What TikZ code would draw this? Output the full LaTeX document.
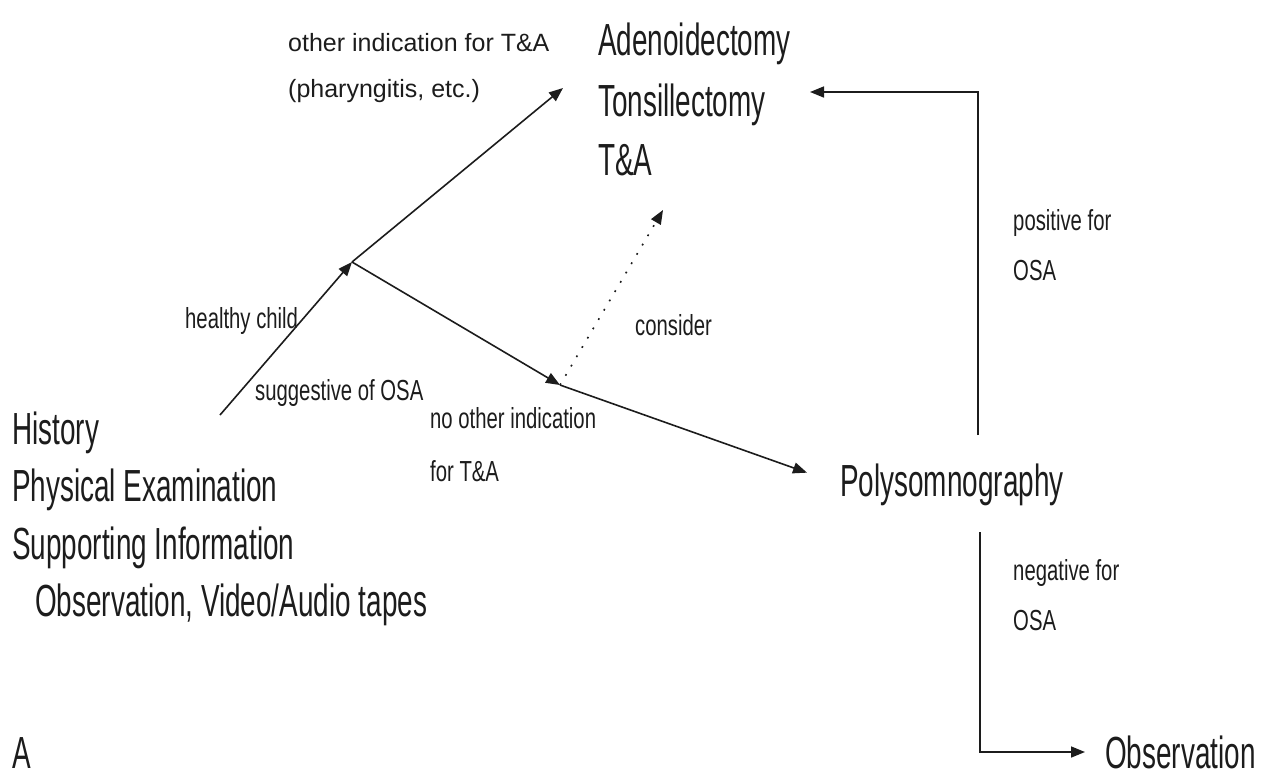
\documentclass[tikz,border=0pt]{standalone}
\usepackage{fontspec}
\usepackage{xcolor}
\usepackage{tikz}
\usetikzlibrary{arrows.meta, positioning}
\setmainfont{Liberation Sans}
\newfontfamily\bigfont{Liberation Sans}[FakeStretch=0.62]
\newfontfamily\narfont{Liberation Sans}[FakeStretch=0.7]
\definecolor{inkgray}{HTML}{1C1C1C}

\begin{document}
\begin{tikzpicture}[x=1pt, y=-1pt,
    bigtxt/.style={anchor=base west, inner sep=0pt, text=inkgray, font=\bigfont\fontsize{45}{50}\selectfont},
    labtxt/.style={anchor=base west, inner sep=0pt, text=inkgray, font=\narfont\fontsize{29}{32}\selectfont},
    toplab/.style={anchor=base west, inner sep=0pt, text=inkgray, font=\fontsize{25}{28}\selectfont},
    flow/.style={draw=inkgray, line width=1.6pt, -{Triangle[length=14pt, width=11pt]}},
]
    \useasboundingbox (0, 0) rectangle (1266, 780);

    % Treatment
    \node[bigtxt] (adeno) at (598, 55) {Adenoidectomy};
    \node[bigtxt] (tonsil) at (598, 116) {Tonsillectomy};
    \node[bigtxt] (tanda) at (598, 175) {T\&A};

    % Evaluation
    \node[bigtxt] (hist) at (12, 444) {History};
    \node[bigtxt] (phys) at (12, 501) {Physical Examination};
    \node[bigtxt] (supp) at (12, 559) {Supporting Information};
    \node[bigtxt] (obsv) at (35, 616) {Observation, Video/Audio tapes};
    \node[bigtxt] (poly) at (840, 496) {Polysomnography};
    \node[bigtxt] (observ) at (1105, 768) {Observation};
    \node[bigtxt] (panel) at (12, 768) {A};

    % Branch labels
    \node[toplab] (othind) at (288, 51) {other indication for T\&A};
    \node[toplab] (phar) at (288, 97) {(pharyngitis, etc.)};
    \node[labtxt] (healthy) at (185, 328) {healthy child};
    \node[labtxt] (suggest) at (255, 400) {suggestive of OSA};
    \node[labtxt] (consid) at (635, 335) {consider};
    \node[labtxt] (noind) at (430, 428) {no other indication};
    \node[labtxt] (noindb) at (430, 481) {for T\&A};
    \node[labtxt] (pos) at (1013, 230) {positive for};
    \node[labtxt] (posb) at (1013, 280) {OSA};
    \node[labtxt] (neg) at (1013, 580) {negative for};
    \node[labtxt] (negb) at (1013, 630) {OSA};

    % Junctions and ends
    \coordinate (start) at (220, 415);
    \coordinate (split) at (352, 262);
    \coordinate (fork) at (560, 385);
    \coordinate (tipta) at (563, 88);
    \coordinate (tipcon) at (663, 210);
    \coordinate (posup) at (978, 435);
    \coordinate (poscorner) at (978, 92);
    \coordinate (tipadeno) at (810, 92);
    \coordinate (negdown) at (980, 532);
    \coordinate (negcorner) at (980, 752);
    \coordinate (tipobs) at (1085, 752);

    \draw[flow] (start) -- (split);
    \draw[flow] (split) -- (tipta);
    \draw[flow] (split) -- (fork);
    \draw[flow, shorten >=35pt] (fork) -- (poly.west);
    \draw[flow, dash pattern=on 1.8pt off 9pt] (fork) -- (tipcon);
    \draw[flow] (posup) -- (poscorner) -- (tipadeno);
    \draw[flow] (negdown) -- (negcorner) -- (tipobs);
\end{tikzpicture}
\end{document}
